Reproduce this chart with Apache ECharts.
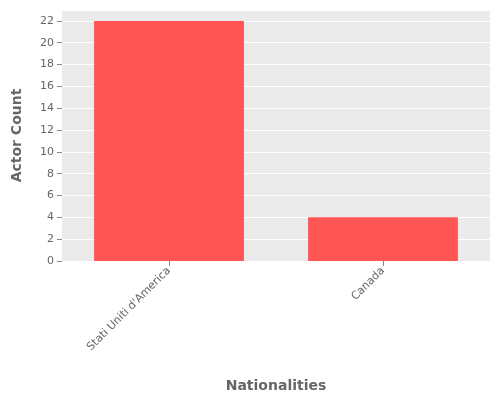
<!DOCTYPE html>
<html><head><meta charset="utf-8">
<script src="https://cdn.jsdelivr.net/npm/echarts@6/dist/echarts.min.js"></script>
<style>html,body{margin:0;padding:0;background:#fff}#c{width:500px;height:400px}</style>
</head><body><div id="c"></div>
<script>
const categories = ["Stati Uniti d'America", "Canada"];
const actorCounts = [22, 4];
const chart = echarts.init(document.getElementById('c'));
chart.setOption({
  animation: false,
  grid: {left: 62, right: 10, top: 10, bottom: 139, backgroundColor: '#ebebeb', show: true, borderWidth: 0},
  xAxis: {
    type: 'category', data: categories,
    name: 'Nationalities', nameLocation: 'middle', nameGap: 118,
    nameTextStyle: {color: '#666', fontSize: 14, fontWeight: 'bold', fontFamily: 'DejaVu Sans'},
    axisLine: {show: false}, axisTick: {show: true, alignWithLabel: true, lineStyle: {color: '#888'}},
    axisLabel: {rotate: 45, color: '#666', fontSize: 11, fontFamily: 'DejaVu Sans', margin: 8}
  },
  yAxis: {
    type: 'value', min: 0, max: 23, interval: 2,
    name: 'Actor Count', nameLocation: 'middle', nameGap: 38,
    nameTextStyle: {color: '#666', fontSize: 14, fontWeight: 'bold', fontFamily: 'DejaVu Sans'},
    axisLine: {show: false}, axisTick: {show: true, lineStyle: {color: '#888'}},
    axisLabel: {color: '#666', fontSize: 11, fontFamily: 'DejaVu Sans', showMaxLabel: false},
    splitLine: {lineStyle: {color: '#fff', width: 1}}
  },
  series: [{type: 'bar', data: actorCounts, barWidth: '70%', itemStyle: {color: '#ff5555'}}]
});
</script></body></html>
